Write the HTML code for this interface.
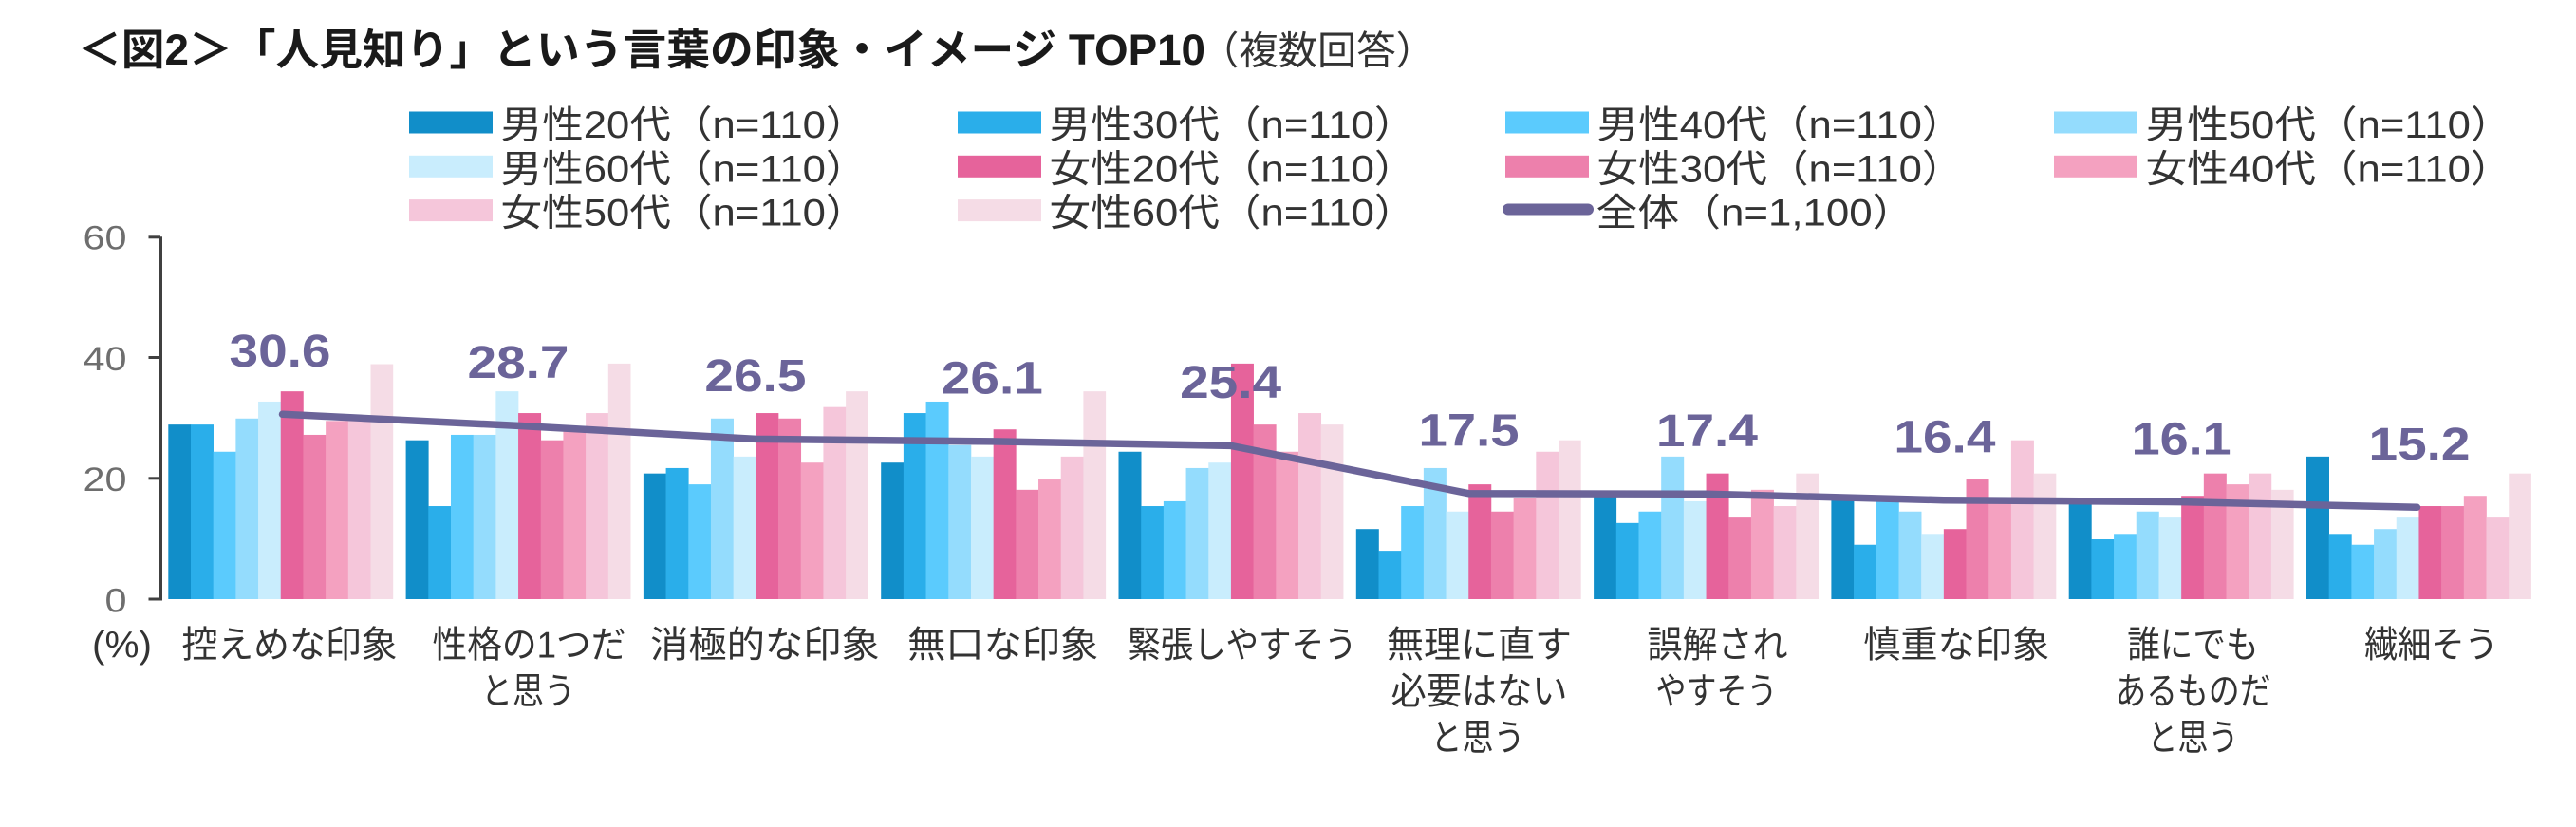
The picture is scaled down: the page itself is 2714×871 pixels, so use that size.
<!DOCTYPE html>
<html><head><meta charset="utf-8"><style>
html,body{margin:0;padding:0;background:#fff;}
svg{display:block;}
text{font-family:"Liberation Sans","Noto Sans CJK JP",sans-serif;}
.c0{fill:#118ec9}.c1{fill:#2aaeea}.c2{fill:#5bcbfd}.c3{fill:#94dcfd}.c4{fill:#c9edfd}
.c5{fill:#e6639b}.c6{fill:#ed80ac}.c7{fill:#f4a1c0}.c8{fill:#f5c6da}.c9{fill:#f5dce6}
.lg{font-size:40px;fill:#333;}
.xl{font-size:39px;fill:#333;}
.yl{font-size:35px;fill:#6e6e6e;}
.dl{font-size:48px;font-weight:bold;fill:#6b6499;}
</style></head><body>
<svg width="2714" height="871" viewBox="0 0 2714 871" xmlns="http://www.w3.org/2000/svg">
<rect width="2714" height="871" fill="#fff"/>
<!-- Title -->
<text x="82" y="68" font-size="45" font-weight="bold" fill="#1a1a1a" textLength="1188" lengthAdjust="spacingAndGlyphs">＜図2＞「人見知り」という言葉の印象・イメージ TOP10</text>
<text x="1264" y="67.5" font-size="41" fill="#333" textLength="248" lengthAdjust="spacingAndGlyphs">（複数回答）</text>

<!-- Legend -->
<rect class="c0" x="431" y="117.5" width="88" height="23"/>
<text class="lg" x="527.5" y="145" textLength="386" lengthAdjust="spacingAndGlyphs">男性20代（n=110）</text>
<rect class="c1" x="1009" y="117.5" width="88" height="23"/>
<text class="lg" x="1105.5" y="145" textLength="386" lengthAdjust="spacingAndGlyphs">男性30代（n=110）</text>
<rect class="c2" x="1586" y="117.5" width="88" height="23"/>
<text class="lg" x="1682.5" y="145" textLength="386" lengthAdjust="spacingAndGlyphs">男性40代（n=110）</text>
<rect class="c3" x="2164" y="117.5" width="88" height="23"/>
<text class="lg" x="2260.5" y="145" textLength="386" lengthAdjust="spacingAndGlyphs">男性50代（n=110）</text>

<rect class="c4" x="431" y="163.8" width="88" height="23"/>
<text class="lg" x="527.5" y="191.3" textLength="386" lengthAdjust="spacingAndGlyphs">男性60代（n=110）</text>
<rect class="c5" x="1009" y="163.8" width="88" height="23"/>
<text class="lg" x="1105.5" y="191.3" textLength="386" lengthAdjust="spacingAndGlyphs">女性20代（n=110）</text>
<rect class="c6" x="1586" y="163.8" width="88" height="23"/>
<text class="lg" x="1682.5" y="191.3" textLength="386" lengthAdjust="spacingAndGlyphs">女性30代（n=110）</text>
<rect class="c7" x="2164" y="163.8" width="88" height="23"/>
<text class="lg" x="2260.5" y="191.3" textLength="386" lengthAdjust="spacingAndGlyphs">女性40代（n=110）</text>

<rect class="c8" x="431" y="210.1" width="88" height="23"/>
<text class="lg" x="527.5" y="237.6" textLength="386" lengthAdjust="spacingAndGlyphs">女性50代（n=110）</text>
<rect class="c9" x="1009" y="210.1" width="88" height="23"/>
<text class="lg" x="1105.5" y="237.6" textLength="386" lengthAdjust="spacingAndGlyphs">女性60代（n=110）</text>
<line x1="1589" y1="220.5" x2="1673" y2="220.5" stroke="#6b6499" stroke-width="12" stroke-linecap="round"/>
<text class="lg" x="1681.5" y="237.6" textLength="335" lengthAdjust="spacingAndGlyphs">全体（n=1,100）</text>

<!-- Y axis -->
<g stroke="#404040" fill="none">
<line x1="169" y1="249.3" x2="169" y2="632.5" stroke-width="4"/>
<line x1="156.5" y1="249.8" x2="169" y2="249.8" stroke-width="3"/>
<line x1="156.5" y1="376.5" x2="169" y2="376.5" stroke-width="3"/>
<line x1="156.5" y1="503.8" x2="169" y2="503.8" stroke-width="3"/>
<line x1="156.5" y1="631" x2="169" y2="631" stroke-width="3"/>
</g>
<text class="yl" x="87.5" y="262.7" textLength="46" lengthAdjust="spacingAndGlyphs">60</text>
<text class="yl" x="87.5" y="389.9" textLength="46" lengthAdjust="spacingAndGlyphs">40</text>
<text class="yl" x="87.5" y="517.2" textLength="46" lengthAdjust="spacingAndGlyphs">20</text>
<text class="yl" x="110.5" y="644.4" textLength="23" lengthAdjust="spacingAndGlyphs">0</text>

<!-- Bars -->
<g transform="translate(177.3,631) scale(1,-6.362)">
<rect class="c0" x="0" width="24" height="28.9"/><rect class="c1" x="23.69" width="24" height="28.9"/><rect class="c2" x="47.38" width="24" height="24.4"/><rect class="c3" x="71.07" width="24" height="29.9"/><rect class="c4" x="94.76" width="24" height="32.7"/><rect class="c5" x="118.45" width="24" height="34.4"/><rect class="c6" x="142.14" width="24" height="27.2"/><rect class="c7" x="165.83" width="24" height="29.5"/><rect class="c8" x="189.52" width="24" height="30.0"/><rect class="c9" x="213.21" width="23.7" height="38.9"/>
</g>
<g transform="translate(427.6,631) scale(1,-6.362)">
<rect class="c0" x="0" width="24" height="26.3"/><rect class="c1" x="23.69" width="24" height="15.4"/><rect class="c2" x="47.38" width="24" height="27.2"/><rect class="c3" x="71.07" width="24" height="27.2"/><rect class="c4" x="94.76" width="24" height="34.4"/><rect class="c5" x="118.45" width="24" height="30.8"/><rect class="c6" x="142.14" width="24" height="26.3"/><rect class="c7" x="165.83" width="24" height="28.0"/><rect class="c8" x="189.52" width="24" height="30.8"/><rect class="c9" x="213.21" width="23.7" height="39.0"/>
</g>
<g transform="translate(677.9,631) scale(1,-6.362)">
<rect class="c0" x="0" width="24" height="20.8"/><rect class="c1" x="23.69" width="24" height="21.7"/><rect class="c2" x="47.38" width="24" height="19.0"/><rect class="c3" x="71.07" width="24" height="29.9"/><rect class="c4" x="94.76" width="24" height="23.6"/><rect class="c5" x="118.45" width="24" height="30.8"/><rect class="c6" x="142.14" width="24" height="29.9"/><rect class="c7" x="165.83" width="24" height="22.6"/><rect class="c8" x="189.52" width="24" height="31.8"/><rect class="c9" x="213.21" width="23.7" height="34.4"/>
</g>
<g transform="translate(928.2,631) scale(1,-6.362)">
<rect class="c0" x="0" width="24" height="22.6"/><rect class="c1" x="23.69" width="24" height="30.8"/><rect class="c2" x="47.38" width="24" height="32.7"/><rect class="c3" x="71.07" width="24" height="25.5"/><rect class="c4" x="94.76" width="24" height="23.6"/><rect class="c5" x="118.45" width="24" height="28.1"/><rect class="c6" x="142.14" width="24" height="18.1"/><rect class="c7" x="165.83" width="24" height="19.8"/><rect class="c8" x="189.52" width="24" height="23.6"/><rect class="c9" x="213.21" width="23.7" height="34.4"/>
</g>
<g transform="translate(1178.5,631) scale(1,-6.362)">
<rect class="c0" x="0" width="24" height="24.4"/><rect class="c1" x="23.69" width="24" height="15.4"/><rect class="c2" x="47.38" width="24" height="16.2"/><rect class="c3" x="71.07" width="24" height="21.7"/><rect class="c4" x="94.76" width="24" height="22.6"/><rect class="c5" x="118.45" width="24" height="39.0"/><rect class="c6" x="142.14" width="24" height="28.9"/><rect class="c7" x="165.83" width="24" height="24.4"/><rect class="c8" x="189.52" width="24" height="30.8"/><rect class="c9" x="213.21" width="23.7" height="28.9"/>
</g>
<g transform="translate(1428.8,631) scale(1,-6.362)">
<rect class="c0" x="0" width="24" height="11.6"/><rect class="c1" x="23.69" width="24" height="8.0"/><rect class="c2" x="47.38" width="24" height="15.4"/><rect class="c3" x="71.07" width="24" height="21.7"/><rect class="c4" x="94.76" width="24" height="14.5"/><rect class="c5" x="118.45" width="24" height="19.0"/><rect class="c6" x="142.14" width="24" height="14.5"/><rect class="c7" x="165.83" width="24" height="16.8"/><rect class="c8" x="189.52" width="24" height="24.4"/><rect class="c9" x="213.21" width="23.7" height="26.3"/>
</g>
<g transform="translate(1679.1,631) scale(1,-6.362)">
<rect class="c0" x="0" width="24" height="17.0"/><rect class="c1" x="23.69" width="24" height="12.6"/><rect class="c2" x="47.38" width="24" height="14.5"/><rect class="c3" x="71.07" width="24" height="23.6"/><rect class="c4" x="94.76" width="24" height="16.2"/><rect class="c5" x="118.45" width="24" height="20.8"/><rect class="c6" x="142.14" width="24" height="13.5"/><rect class="c7" x="165.83" width="24" height="18.1"/><rect class="c8" x="189.52" width="24" height="15.4"/><rect class="c9" x="213.21" width="23.7" height="20.8"/>
</g>
<g transform="translate(1929.4,631) scale(1,-6.362)">
<rect class="c0" x="0" width="24" height="16.4"/><rect class="c1" x="23.69" width="24" height="9.0"/><rect class="c2" x="47.38" width="24" height="16.2"/><rect class="c3" x="71.07" width="24" height="14.5"/><rect class="c4" x="94.76" width="24" height="10.8"/><rect class="c5" x="118.45" width="24" height="11.6"/><rect class="c6" x="142.14" width="24" height="19.8"/><rect class="c7" x="165.83" width="24" height="16.5"/><rect class="c8" x="189.52" width="24" height="26.3"/><rect class="c9" x="213.21" width="23.7" height="20.8"/>
</g>
<g transform="translate(2179.7,631) scale(1,-6.362)">
<rect class="c0" x="0" width="24" height="16.0"/><rect class="c1" x="23.69" width="24" height="9.9"/><rect class="c2" x="47.38" width="24" height="10.8"/><rect class="c3" x="71.07" width="24" height="14.5"/><rect class="c4" x="94.76" width="24" height="13.5"/><rect class="c5" x="118.45" width="24" height="17.1"/><rect class="c6" x="142.14" width="24" height="20.8"/><rect class="c7" x="165.83" width="24" height="19.0"/><rect class="c8" x="189.52" width="24" height="20.8"/><rect class="c9" x="213.21" width="23.7" height="18.1"/>
</g>
<g transform="translate(2430.0,631) scale(1,-6.362)">
<rect class="c0" x="0" width="24" height="23.6"/><rect class="c1" x="23.69" width="24" height="10.8"/><rect class="c2" x="47.38" width="24" height="9.0"/><rect class="c3" x="71.07" width="24" height="11.6"/><rect class="c4" x="94.76" width="24" height="13.5"/><rect class="c5" x="118.45" width="24" height="15.4"/><rect class="c6" x="142.14" width="24" height="15.4"/><rect class="c7" x="165.83" width="24" height="17.1"/><rect class="c8" x="189.52" width="24" height="13.5"/><rect class="c9" x="213.21" width="23.7" height="20.8"/>
</g>

<!-- Total line -->
<polyline fill="none" stroke="#6b6499" stroke-width="7.5" stroke-linecap="round" stroke-linejoin="round"
 points="297.5,436.3 546.05,448.4 796.35,462.4 1046.65,464.9 1296.95,469.4 1547.25,519.7 1797.55,520.3 2047.85,526.7 2298.15,528.6 2546.5,534.3"/>

<!-- Data labels -->
<text class="dl" x="241.5" y="386" textLength="107" lengthAdjust="spacingAndGlyphs">30.6</text>
<text class="dl" x="492.5" y="398.1" textLength="107" lengthAdjust="spacingAndGlyphs">28.7</text>
<text class="dl" x="742.4" y="412.1" textLength="107" lengthAdjust="spacingAndGlyphs">26.5</text>
<text class="dl" x="991.8" y="414.6" textLength="107" lengthAdjust="spacingAndGlyphs">26.1</text>
<text class="dl" x="1243.1" y="419.1" textLength="107" lengthAdjust="spacingAndGlyphs">25.4</text>
<text class="dl" x="1494.5" y="469.4" textLength="106" lengthAdjust="spacingAndGlyphs">17.5</text>
<text class="dl" x="1744.9" y="470" textLength="107" lengthAdjust="spacingAndGlyphs">17.4</text>
<text class="dl" x="1995.4" y="476.4" textLength="107" lengthAdjust="spacingAndGlyphs">16.4</text>
<text class="dl" x="2245.6" y="478.3" textLength="105" lengthAdjust="spacingAndGlyphs">16.1</text>
<text class="dl" x="2495.5" y="484" textLength="107" lengthAdjust="spacingAndGlyphs">15.2</text>

<!-- X labels -->
<text class="xl" x="97" y="692.7" textLength="63" lengthAdjust="spacingAndGlyphs">(%)</text>
<text class="xl" x="191.5" y="692.7" textLength="227" lengthAdjust="spacingAndGlyphs">控えめな印象</text>
<text class="xl" x="455.5" y="692.7" textLength="204" lengthAdjust="spacingAndGlyphs">性格の1つだ</text>
<text class="xl" x="507" y="741.7" textLength="99" lengthAdjust="spacingAndGlyphs">と思う</text>
<text class="xl" x="685.2" y="692.7" textLength="241.5" lengthAdjust="spacingAndGlyphs">消極的な印象</text>
<text class="xl" x="956.2" y="692.7" textLength="201" lengthAdjust="spacingAndGlyphs">無口な印象</text>
<text class="xl" x="1188.2" y="692.7" textLength="241.5" lengthAdjust="spacingAndGlyphs">緊張しやすそう</text>
<text class="xl" x="1461" y="692.7" textLength="195" lengthAdjust="spacingAndGlyphs">無理に直す</text>
<text class="xl" x="1465.5" y="741.7" textLength="186" lengthAdjust="spacingAndGlyphs">必要はない</text>
<text class="xl" x="1507.5" y="790.7" textLength="99" lengthAdjust="spacingAndGlyphs">と思う</text>
<text class="xl" x="1735.5" y="692.7" textLength="148" lengthAdjust="spacingAndGlyphs">誤解され</text>
<text class="xl" x="1744.5" y="741.7" textLength="128" lengthAdjust="spacingAndGlyphs">やすそう</text>
<text class="xl" x="1963.2" y="692.7" textLength="196" lengthAdjust="spacingAndGlyphs">慎重な印象</text>
<text class="xl" x="2241.2" y="692.7" textLength="138.5" lengthAdjust="spacingAndGlyphs">誰にでも</text>
<text class="xl" x="2228.5" y="741.7" textLength="164" lengthAdjust="spacingAndGlyphs">あるものだ</text>
<text class="xl" x="2262.5" y="790.7" textLength="96" lengthAdjust="spacingAndGlyphs">と思う</text>
<text class="xl" x="2491.1" y="692.7" textLength="140.7" lengthAdjust="spacingAndGlyphs">繊細そう</text>
</svg>
</body></html>
